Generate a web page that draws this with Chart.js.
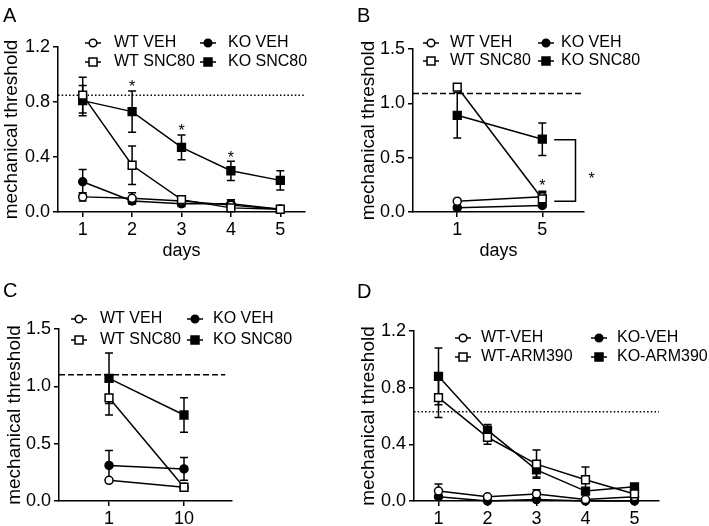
<!DOCTYPE html>
<html>
<head>
<meta charset="utf-8">
<script src="https://cdn.jsdelivr.net/npm/chart.js@4.4.1/dist/chart.umd.min.js"></script>
<style>
  body { margin: 0; background: #fff; }
  #wrap { position: relative; width: 709px; height: 526px; font-family: "Liberation Sans", Arial, sans-serif; }
  .panel { position: absolute; }
  .letter { position: absolute; font-size: 20px; line-height: 20px; color: #000; }
</style>
</head>
<body>
<div id="wrap">
  <div class="panel" style="left:0;top:0;width:354px;height:263px"><canvas id="chartA"></canvas></div>
  <div class="panel" style="left:354px;top:0;width:355px;height:263px"><canvas id="chartB"></canvas></div>
  <div class="panel" style="left:0;top:263px;width:354px;height:263px"><canvas id="chartC"></canvas></div>
  <div class="panel" style="left:354px;top:263px;width:355px;height:263px"><canvas id="chartD"></canvas></div>
  <div class="letter" style="left:3px;top:5px">A</div>
  <div class="letter" style="left:357px;top:5px">B</div>
  <div class="letter" style="left:3px;top:280px">C</div>
  <div class="letter" style="left:357px;top:281px">D</div>
</div>
<script>
// panel A - days 1..5
const daysA = ['1', '2', '3', '4', '5'];
const aWtVeh = [0.11, 0.10, 0.08, 0.05, 0.02];
const aWtVehErr = [0.03, 0.04, 0.02, 0.04, 0.01];
const aKoVeh = [0.22, 0.08, 0.06, 0.06, 0.02];
const aKoVehErr = [0.09, 0.02, 0.02, 0.03, 0.01];
const aWtSnc = [0.85, 0.34, 0.09, 0.03, 0.02];
const aWtSncErr = [0.13, 0.14, 0.02, 0.02, 0.01];
const aKoSnc = [0.81, 0.73, 0.47, 0.30, 0.23];
const aKoSncErr = [0.11, 0.15, 0.09, 0.07, 0.07];
const aBaseline = 0.85;
const aStarX = [1, 2, 3];
const aStarY = [0.94, 0.62, 0.42];

// panel B - days 1 and 5
const daysB = ['1', '5'];
const bWtVeh = [0.10, 0.14];
const bWtVehErr = [0.01, 0.05];
const bKoVeh = [0.04, 0.06];
const bKoVehErr = [0.01, 0.01];
const bWtSnc = [1.15, 0.12];
const bWtSncErr = [0.03, 0.06];
const bKoSnc = [0.89, 0.67];
const bKoSncErr = [0.21, 0.15];
const bBaseline = 1.09;
const bStarX = [1, 1.58];
const bStarY = [0.28, 0.34];
const bBracketX = [1.14, 1.39];
const bBracketY = [0.665, 0.10];

// panel C - days 1 and 10
const daysC = ['1', '10'];
const cWtVeh = [0.18, 0.12];
const cWtVehErr = [0.01, 0.02];
const cKoVeh = [0.31, 0.28];
const cKoVehErr = [0.13, 0.10];
const cWtSnc = [0.90, 0.12];
const cWtSncErr = [0.15, 0.03];
const cKoSnc = [1.07, 0.75];
const cKoSncErr = [0.22, 0.15];
const cBaseline = 1.10;

// panel D - days 1..5, ARM390
const daysD = ['1', '2', '3', '4', '5'];
const dWtVeh = [0.07, 0.03, 0.05, 0.01, 0.03];
const dWtVehErr = [0.05, 0.01, 0.03, 0.01, 0.01];
const dKoVeh = [0.03, 0.00, 0.01, 0.00, 0.00];
const dKoVehErr = [0.01, 0.00, 0.00, 0.00, 0.00];
const dWtArm = [0.73, 0.45, 0.26, 0.15, 0.05];
const dWtArmErr = [0.14, 0.05, 0.10, 0.09, 0.02];
const dKoArm = [0.88, 0.50, 0.22, 0.07, 0.10];
const dKoArmErr = [0.20, 0.04, 0.05, 0.02, 0.02];
const dBaseline = 0.63;

const ink = '#000';
const FONT = '"Liberation Sans", Arial, sans-serif';

function series(label, vals, errs, shape, filled, order) {
    return {
        label: label,
        data: vals.map((v, i) => ({ x: i, y: v })),
        errs: errs,
        shape: shape,
        filled: filled,
        borderColor: ink,
        borderWidth: 1.5,
        pointStyle: shape,
        pointRadius: shape === 'rect' ? 5.5 : 4,
        pointHoverRadius: shape === 'rect' ? 5.5 : 4,
        pointBackgroundColor: filled ? ink : '#fff',
        pointBorderColor: ink,
        pointBorderWidth: 1.5,
        fill: false,
        tension: 0,
        clip: false,
        order: order
    };
}

function refLine(y, x0, x1, dash) {
    return {
        label: '',
        data: [{ x: x0, y: y }, { x: x1, y: y }],
        borderColor: ink,
        borderWidth: 1.5,
        borderDash: dash,
        pointRadius: 0,
        fill: false,
        clip: false,
        order: 9
    };
}

// legend order: WT VEH, KO VEH / WT drug, KO drug ; squares drawn over circles
function fourSeries(names, wv, wve, kv, kve, ws, wse, ks, kse) {
    return [
        series(names[0], wv, wve, 'circle', false, 3),
        series(names[1], kv, kve, 'circle', true, 4),
        series(names[2], ws, wse, 'rect', false, 1),
        series(names[3], ks, kse, 'rect', true, 2)
    ];
}

// vertical SEM bars, drawn under the lines and markers
const errBars = {
    id: 'errBars',
    beforeDatasetsDraw(chart) {
        const ctx = chart.ctx;
        const xs = chart.scales.x, ys = chart.scales.y;
        ctx.save();
        ctx.strokeStyle = ink;
        ctx.lineWidth = 1.5;
        chart.data.datasets.forEach(ds => {
            if (!ds.errs) return;
            ds.data.forEach((p, i) => {
                const e = ds.errs[i];
                if (!e) return;
                const px = xs.getPixelForValue(p.x);
                const top = ys.getPixelForValue(p.y + e);
                const bot = ys.getPixelForValue(Math.max(0, p.y - e));
                ctx.beginPath();
                ctx.moveTo(px, top); ctx.lineTo(px, bot);
                ctx.moveTo(px - 4, top); ctx.lineTo(px + 4, top);
                ctx.moveTo(px - 4, bot); ctx.lineTo(px + 4, bot);
                ctx.stroke();
            });
        });
        ctx.restore();
    }
};

// two-column legend, line + marker + label
const panelLegend = {
    id: 'panelLegend',
    afterDraw(chart, args, opts) {
        if (!opts.markX) return;
        const ctx = chart.ctx;
        ctx.save();
        ctx.font = opts.size + 'px ' + FONT;
        ctx.textBaseline = 'middle';
        ctx.textAlign = 'left';
        ctx.lineWidth = 1.5;
        ctx.strokeStyle = ink;
        chart.data.datasets.slice(0, 4).forEach((ds, k) => {
            const col = k % 2, row = Math.floor(k / 2);
            const mx = opts.markX[col], tx = opts.textX[col];
            const y = opts.rowY[row];
            ctx.beginPath();
            ctx.moveTo(mx - 8, y); ctx.lineTo(mx + 8, y);
            ctx.stroke();
            ctx.beginPath();
            if (ds.shape === 'rect') ctx.rect(mx - 4, y - 4, 8, 8);
            else ctx.arc(mx, y, 3.8, 0, Math.PI * 2);
            ctx.fillStyle = ds.filled ? ink : '#fff';
            ctx.fill();
            ctx.stroke();
            ctx.fillStyle = ink;
            ctx.fillText(ds.label, tx, y);
        });
        ctx.restore();
    }
};

// significance stars and bracket
const stars = {
    id: 'stars',
    afterDraw(chart, args, opts) {
        if (!opts.x) return;
        const ctx = chart.ctx;
        const xs = chart.scales.x, ys = chart.scales.y;
        ctx.save();
        ctx.fillStyle = ink;
        ctx.strokeStyle = ink;
        ctx.lineWidth = 1.5;
        ctx.font = '16px ' + FONT;
        ctx.textAlign = 'center';
        ctx.textBaseline = 'alphabetic';
        opts.x.forEach((v, i) => {
            ctx.fillText('*', xs.getPixelForValue(v), ys.getPixelForValue(opts.y[i]) + 9);
        });
        if (opts.bx) {
            const x0 = xs.getPixelForValue(opts.bx[0]), x1 = xs.getPixelForValue(opts.bx[1]);
            const y0 = ys.getPixelForValue(opts.by[0]), y1 = ys.getPixelForValue(opts.by[1]);
            ctx.beginPath();
            ctx.moveTo(x0, y0); ctx.lineTo(x1, y0); ctx.lineTo(x1, y1); ctx.lineTo(x0, y1);
            ctx.stroke();
        }
        ctx.restore();
    }
};

Chart.register(errBars, panelLegend, stars);

function makePanel(id, cfg) {
    const canvas = document.getElementById(id);
    const W = canvas.parentNode.clientWidth;
    const H = canvas.parentNode.clientHeight;
    const axisGrid = { display: true, drawOnChartArea: false, drawTicks: true, tickLength: 5, color: ink, lineWidth: 1.5 };
    const axisBorder = { display: true, color: ink, width: 1.5 };
    return new Chart(canvas, {
        type: 'line',
        data: { datasets: cfg.datasets },
        options: {
            responsive: true,
            maintainAspectRatio: false,
            animation: false,
            events: [],
            layout: { padding: { top: cfg.area.top, right: W - cfg.area.right, left: 0, bottom: 0 } },
            plugins: {
                legend: { display: false },
                tooltip: { enabled: false },
                panelLegend: cfg.legend,
                stars: cfg.stars || {}
            },
            scales: {
                x: {
                    type: 'linear',
                    min: cfg.xMin,
                    max: cfg.xMax,
                    afterFit: s => { s.height = H - cfg.area.bottom; },
                    afterBuildTicks: s => { s.ticks = cfg.xLabels.map((l, i) => ({ value: i })); },
                    ticks: {
                        callback: v => cfg.xLabels[Math.round(v)],
                        color: ink,
                        font: { family: FONT, size: 18 },
                        padding: 2,
                        maxRotation: 0,
                        autoSkip: false
                    },
                    grid: axisGrid,
                    border: axisBorder,
                    title: {
                        display: !!cfg.xTitle,
                        text: cfg.xTitle || '',
                        color: ink,
                        font: { family: FONT, size: 18 },
                        padding: { top: 0, bottom: 1 }
                    }
                },
                y: {
                    min: 0,
                    max: cfg.yMax,
                    afterFit: s => { s.width = cfg.area.left; },
                    ticks: {
                        stepSize: cfg.yStep,
                        callback: v => v.toFixed(1),
                        color: ink,
                        font: { family: FONT, size: 18 },
                        padding: 3
                    },
                    grid: axisGrid,
                    border: axisBorder,
                    title: {
                        display: true,
                        text: 'mechanical threshold',
                        color: ink,
                        font: { family: FONT, size: 19 },
                        padding: { top: cfg.titlePad, bottom: 0 }
                    }
                }
            }
        }
    });
}

makePanel('chartA', {
    xLabels: daysA, xMin: -0.5, xMax: 4.5, yMax: 1.2, yStep: 0.4, xTitle: 'days', titlePad: 0,
    area: { left: 58, right: 305, top: 47, bottom: 212 },
    datasets: fourSeries(['WT VEH', 'KO VEH', 'WT SNC80', 'KO SNC80'],
        aWtVeh, aWtVehErr, aKoVeh, aKoVehErr, aWtSnc, aWtSncErr, aKoSnc, aKoSncErr)
        .concat([refLine(aBaseline, -0.5, 4.5, [1.5, 2.2])]),
    legend: { size: 16, markX: [93, 208], textX: [114, 228], rowY: [43, 62] },
    stars: { x: aStarX, y: aStarY }
});

makePanel('chartB', {
    xLabels: daysB, xMin: -0.52, xMax: 1.49, yMax: 1.5, yStep: 0.5, xTitle: 'days', titlePad: 3,
    area: { left: 59, right: 230, top: 49, bottom: 212 },
    datasets: fourSeries(['WT VEH', 'KO VEH', 'WT SNC80', 'KO SNC80'],
        bWtVeh, bWtVehErr, bKoVeh, bKoVehErr, bWtSnc, bWtSncErr, bKoSnc, bKoSncErr)
        .concat([refLine(bBaseline, -0.52, 1.49, [6, 3])]),
    legend: { size: 16, markX: [77, 192], textX: [96, 207], rowY: [43, 61] },
    stars: { x: bStarX, y: bStarY, bx: bBracketX, by: bBracketY }
});

makePanel('chartC', {
    xLabels: daysC, xMin: -0.667, xMax: 1.64, yMax: 1.5, yStep: 0.5, xTitle: '', titlePad: 3,
    area: { left: 59, right: 232, top: 66, bottom: 238 },
    datasets: fourSeries(['WT VEH', 'KO VEH', 'WT SNC80', 'KO SNC80'],
        cWtVeh, cWtVehErr, cKoVeh, cKoVehErr, cWtSnc, cWtSncErr, cKoSnc, cKoSncErr)
        .concat([refLine(cBaseline, -0.667, 1.55, [6, 3])]),
    legend: { size: 16, markX: [79, 195], textX: [100, 213], rowY: [56, 77] }
});

makePanel('chartD', {
    xLabels: daysD, xMin: -0.5, xMax: 4.5, yMax: 1.2, yStep: 0.4, xTitle: '', titlePad: 3,
    area: { left: 60, right: 305, top: 68, bottom: 238 },
    datasets: fourSeries(['WT-VEH', 'KO-VEH', 'WT-ARM390', 'KO-ARM390'],
        dWtVeh, dWtVehErr, dKoVeh, dKoVehErr, dWtArm, dWtArmErr, dKoArm, dKoArmErr)
        .concat([refLine(dBaseline, -0.5, 4.5, [1.5, 2.2])]),
    legend: { size: 16, markX: [109, 245], textX: [127, 263], rowY: [75, 94] }
});
</script>
</body>
</html>
